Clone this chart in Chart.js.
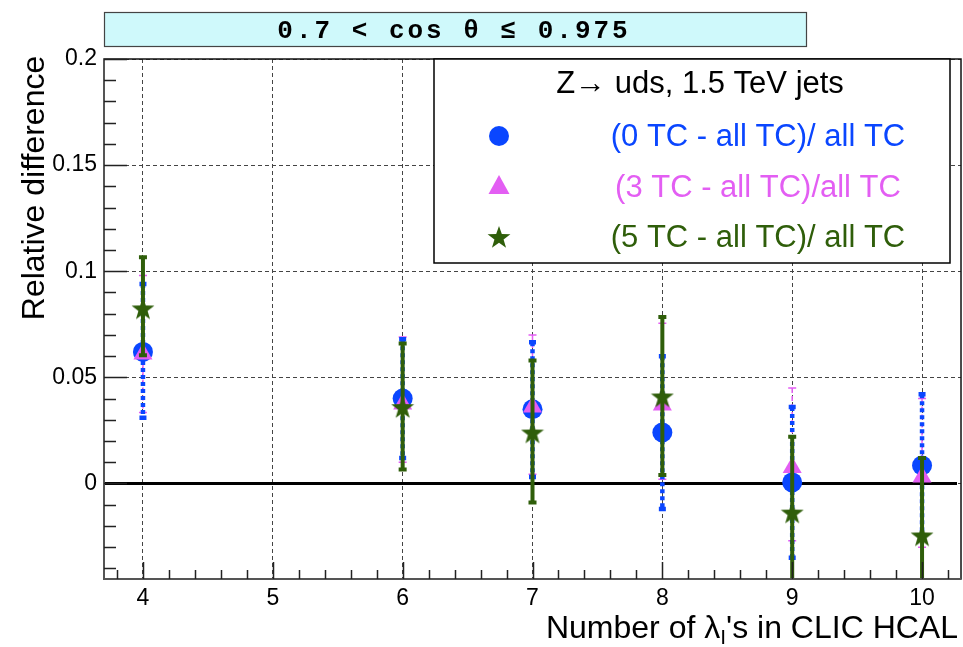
<!DOCTYPE html>
<html>
<head>
<meta charset="utf-8">
<script src="https://cdn.jsdelivr.net/npm/chart.js@4.4.1/dist/chart.umd.min.js"></script>
<style>
  html, body { margin: 0; padding: 0; background: #fff; overflow: hidden; }
</style>
</head>
<body>
<canvas id="chart" width="963" height="647"></canvas>
<script>
// Number of lambda_I in the HCAL (x positions)
const nLambda = [4, 6, 7, 8, 9, 10];
const xTickValues = [4, 5, 6, 7, 8, 9, 10];
const yTickValues = [0, 0.05, 0.1, 0.15, 0.2];

// (0 TC - all TC)/ all TC
const zeroTC = [0.062, 0.040, 0.035, 0.024, 0.0005, 0.0085];
const zeroTCHi = [0.094, 0.068, 0.0665, 0.060, 0.036, 0.042];
const zeroTCLo = [0.031, 0.012, 0.003, -0.012, -0.035, -0.025];

// (3 TC - all TC)/all TC
const threeTC = [0.061, 0.0375, 0.036, 0.037, 0.0075, 0.003];
const threeTCHi = [0.098, 0.069, 0.070, 0.0755, 0.045, 0.040];
const threeTCLo = [0.0335, 0.010, 0.0043, 0.002, -0.027, -0.030];

// (5 TC - all TC)/ all TC
const fiveTC = [0.0825, 0.036, 0.024, 0.041, -0.0137, -0.0245];
const fiveTCHi = [0.1066, 0.066, 0.058, 0.0785, 0.022, 0.012];
const fiveTCLo = [0.0604, 0.0066, -0.009, 0.004, -0.050, -0.061];

const legendTitle = 'Z\u2192 uds, 1.5 TeV jets';
const rangeLabel = '0.7 < cos \u03b8 \u2264 0.975';

const BLUE = '#0a46ff';
const PINK = '#e35ef3';
const GREEN = '#2f5e0a';
const FONT = '"Liberation Sans", Arial, Helvetica, sans-serif';

// filled five pointed star, used as point style
function makeStar(color, size) {
  const c = document.createElement('canvas');
  c.width = size; c.height = size;
  const g = c.getContext('2d');
  const cx = size / 2, cy = size / 2 + 1, R = size / 2, r = R * 0.4;
  g.beginPath();
  for (let i = 0; i < 10; i++) {
    const rad = i % 2 === 0 ? R : r;
    const a = -Math.PI / 2 + i * Math.PI / 5;
    g.lineTo(cx + rad * Math.cos(a), cy + rad * Math.sin(a));
  }
  g.closePath();
  g.fillStyle = color;
  g.fill();
  return c;
}
const starImg = makeStar(GREEN, 24);

function points(ys) {
  return nLambda.map((x, i) => ({ x: x, y: ys[i] }));
}

// errFirst: error bars go under everything else (the thin pink ones)
const datasets = [
  {
    label: '(0 TC - all TC)/ all TC',
    data: points(zeroTC), hi: zeroTCHi, lo: zeroTCLo,
    pointStyle: 'circle', pointRadius: 10, backgroundColor: BLUE, borderColor: BLUE, borderWidth: 0,
    errStyle: { width: 4.5, dash: [4, 3], cap: 7 },
    order: 2
  },
  {
    label: '(3 TC - all TC)/all TC',
    data: points(threeTC), hi: threeTCHi, lo: threeTCLo,
    pointStyle: 'triangle', pointRadius: 11, backgroundColor: PINK, borderColor: PINK, borderWidth: 0,
    errStyle: { width: 1.5, dash: [5, 3], cap: 8 },
    errFirst: true,
    order: 1
  },
  {
    label: '(5 TC - all TC)/ all TC',
    data: points(fiveTC), hi: fiveTCHi, lo: fiveTCLo,
    pointStyle: starImg, pointRadius: 12, backgroundColor: GREEN, borderColor: GREEN, borderWidth: 0,
    errStyle: { width: 4, dash: [], cap: 8 },
    order: 0
  }
];

function drawErrors(chart, ds) {
  const { ctx, chartArea: a, scales: { x, y } } = chart;
  ctx.save();
  ctx.beginPath();
  ctx.rect(a.left, a.top, a.right - a.left, a.bottom - a.top);
  ctx.clip();
  ctx.strokeStyle = ds.borderColor;
  ctx.lineWidth = ds.errStyle.width;
  ds.data.forEach((p, i) => {
    const px = x.getPixelForValue(p.x);
    const yh = y.getPixelForValue(ds.hi[i]);
    const yl = y.getPixelForValue(ds.lo[i]);
    ctx.setLineDash(ds.errStyle.dash);
    ctx.beginPath();
    ctx.moveTo(px, yh);
    ctx.lineTo(px, yl);
    ctx.stroke();
    ctx.setLineDash([]);
    const w = ds.errStyle.cap / 2;
    ctx.beginPath();
    ctx.moveTo(px - w, yh); ctx.lineTo(px + w, yh);
    ctx.moveTo(px - w, yl); ctx.lineTo(px + w, yl);
    ctx.stroke();
  });
  ctx.restore();
}

const rootStyle = {
  id: 'rootStyle',
  beforeDatasetsDraw(chart) {
    const { ctx, chartArea: a, scales: { y } } = chart;
    // zero line
    ctx.save();
    ctx.strokeStyle = '#000';
    ctx.lineWidth = 3;
    ctx.beginPath();
    ctx.moveTo(a.left, y.getPixelForValue(0));
    ctx.lineTo(a.right - 4, y.getPixelForValue(0));
    ctx.stroke();
    ctx.restore();
    chart.data.datasets.forEach(ds => { if (ds.errFirst) drawErrors(chart, ds); });
  },
  beforeDatasetDraw(chart, args) {
    const ds = chart.data.datasets[args.index];
    if (!ds.errFirst) drawErrors(chart, ds);
  },
  afterDraw(chart) {
    const { ctx, chartArea: a, scales: { x, y } } = chart;
    ctx.save();

    // frame
    ctx.strokeStyle = '#111';
    ctx.lineWidth = 1.5;
    ctx.strokeRect(a.left, a.top, a.right - a.left, a.bottom - a.top);
    ctx.strokeStyle = '#555';
    ctx.lineWidth = 2;
    ctx.beginPath();
    ctx.moveTo(a.left, a.top); ctx.lineTo(a.left, a.bottom); ctx.lineTo(a.right, a.bottom);
    ctx.stroke();

    // inward ticks, ROOT style
    ctx.strokeStyle = '#222';
    ctx.lineWidth = 1.5;
    ctx.beginPath();
    for (let k = -4; k <= 20; k++) {
      const py = Math.round(y.getPixelForValue(k / 100)) + 0.5;
      const len = k % 5 === 0 ? 23 : 12;
      ctx.moveTo(a.left, py); ctx.lineTo(a.left + len, py);
    }
    for (let k = 19; k <= 51; k++) {
      const px = Math.round(x.getPixelForValue(k / 5)) + 0.5;
      const len = k % 5 === 0 ? 17 : 9;
      ctx.moveTo(px, a.bottom); ctx.lineTo(px, a.bottom - len);
    }
    ctx.stroke();

    // axis titles
    ctx.fillStyle = '#000';
    ctx.font = '32px ' + FONT;
    ctx.textBaseline = 'alphabetic';
    ctx.save();
    ctx.translate(44, 188);
    ctx.rotate(-Math.PI / 2);
    ctx.textAlign = 'center';
    ctx.fillText('Relative difference', 0, 0);
    ctx.restore();

    const part1 = 'Number of \u03bb';
    const sub = 'I';
    const part2 = "'s in CLIC HCAL";
    ctx.font = '32px ' + FONT;
    const w1 = ctx.measureText(part1).width;
    const w3 = ctx.measureText(part2).width;
    ctx.font = '21px ' + FONT;
    const w2 = ctx.measureText(sub).width;
    let tx = 958 - (w1 + w2 + w3);
    const base = 638;
    ctx.textAlign = 'left';
    ctx.font = '32px ' + FONT;
    ctx.fillText(part1, tx, base);
    ctx.font = '21px ' + FONT;
    ctx.fillText(sub, tx + w1, base + 6);
    ctx.font = '32px ' + FONT;
    ctx.fillText(part2, tx + w1 + w2, base);

    // range box on top
    ctx.fillStyle = '#cff9fb';
    ctx.fillRect(104, 12, 702, 34);
    ctx.strokeStyle = '#444';
    ctx.lineWidth = 1.2;
    ctx.strokeRect(104.5, 12.5, 702, 34);
    ctx.fillStyle = '#000';
    ctx.font = 'bold 26px "Liberation Mono", "DejaVu Sans Mono", monospace';
    ctx.letterSpacing = '3px';
    ctx.textAlign = 'center';
    ctx.textBaseline = 'middle';
    ctx.fillText(rangeLabel, 454, 31);
    ctx.letterSpacing = '0px';

    // legend box
    const L = { x: 434, y: a.top, w: 516, h: 204 };
    ctx.fillStyle = '#fff';
    ctx.fillRect(L.x, L.y, L.w, L.h);
    ctx.strokeStyle = '#000';
    ctx.lineWidth = 1.5;
    ctx.strokeRect(L.x, L.y, L.w, L.h);
    ctx.fillStyle = '#000';
    ctx.font = '31px ' + FONT;
    ctx.fillText(legendTitle, 700, 84);
    const rows = [136, 187, 237];
    chart.data.datasets.forEach((ds, i) => {
      const cy = rows[i];
      const mx = 499;
      ctx.fillStyle = ds.backgroundColor;
      if (ds.pointStyle === 'circle') {
        ctx.beginPath();
        ctx.arc(mx, cy, 10, 0, Math.PI * 2);
        ctx.fill();
      } else if (ds.pointStyle === 'triangle') {
        ctx.beginPath();
        ctx.moveTo(mx, cy - 12);
        ctx.lineTo(mx + 10.5, cy + 7);
        ctx.lineTo(mx - 10.5, cy + 7);
        ctx.closePath();
        ctx.fill();
      } else {
        ctx.drawImage(ds.pointStyle, mx - 12, cy - 12);
      }
      ctx.font = '31px ' + FONT;
      ctx.textAlign = 'center';
      ctx.fillText(ds.label, 758, cy + 1);
    });
    ctx.restore();
  }
};

new Chart(document.getElementById('chart'), {
  type: 'scatter',
  data: { datasets: datasets },
  plugins: [rootStyle],
  options: {
    responsive: false,
    devicePixelRatio: 1,
    animation: false,
    layout: { autoPadding: false, padding: { left: 0, right: 2, top: 59, bottom: 0 } },
    plugins: { legend: { display: false }, tooltip: { enabled: false } },
    scales: {
      x: {
        type: 'linear',
        min: 3.7,
        max: 10.3,
        afterBuildTicks: (scale) => { scale.ticks = xTickValues.map(v => ({ value: v })); },
        afterFit: (scale) => {
          scale.height = 68;
          scale.paddingLeft = 0;
          scale.paddingRight = 0;
        },
        grid: { color: '#444', lineWidth: 1, drawTicks: false },
        border: { display: false, dash: [4, 3] },
        ticks: {
          padding: 6,
          color: '#000',
          font: { family: FONT, size: 23 },
          callback: (v) => String(v)
        }
      },
      y: {
        type: 'linear',
        min: -0.045,
        max: 0.2,
        afterBuildTicks: (scale) => { scale.ticks = yTickValues.map(v => ({ value: v })); },
        afterFit: (scale) => {
          scale.width = 104;
          scale.paddingTop = 0;
          scale.paddingBottom = 0;
        },
        grid: { color: '#444', lineWidth: 1, drawTicks: false },
        border: { display: false, dash: [4, 3] },
        ticks: {
          padding: 7,
          color: '#000',
          font: { family: FONT, size: 23 },
          callback: (v) => String(Math.round(v * 100) / 100)
        }
      }
    }
  }
});
</script>
</body>
</html>
